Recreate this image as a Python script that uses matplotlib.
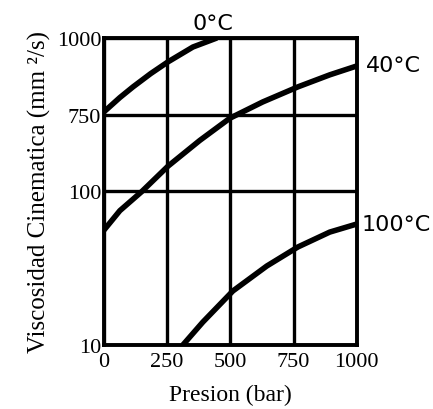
import numpy as np
import matplotlib
matplotlib.use('Agg')
from matplotlib import pyplot as plt

# Pressure (bar) and kinematic viscosity (mm2/s)
p_0C = [0, 63, 115, 185, 253, 352, 447]
v_0C = [330, 409, 480, 586, 698, 873, 1000]

p_40C = [0, 63, 150, 253, 379, 498, 628, 767, 893, 1000]
v_40C = [56, 75, 100, 146, 215, 300, 383, 480, 575, 657]

p_100C = [312, 391, 510, 644, 767, 893, 1000]
v_100C = [10, 14.1, 22.5, 32.7, 43.5, 54.4, 61.4]

x_ticks = [0, 250, 500, 750, 1000]
y_ticks = [10, 100, 316, 1000]
y_ticklabels = ['10', '100', '750', '1000']

plt.rcParams['font.family'] = 'Liberation Serif'

fig = plt.figure(figsize=(4.33, 4.10), dpi=100)
ax = fig.add_axes([0.240, 0.156, 0.584, 0.749])

for p, v in [(p_0C, v_0C), (p_40C, v_40C), (p_100C, v_100C)]:
    ax.plot(p, v, 'k-', lw=4, solid_joinstyle='round', solid_capstyle='butt')

ax.set_yscale('log')
ax.set_xlim(0, 1000)
ax.set_ylim(10, 1000)
ax.set_xticks(x_ticks)
ax.set_xticklabels([str(t) for t in x_ticks], fontsize=16)
ax.set_yticks(y_ticks)
ax.set_yticklabels(y_ticklabels, fontsize=16)
ax.minorticks_off()
ax.tick_params(axis='x', length=0, pad=5)
ax.tick_params(axis='y', length=0, pad=2)
ax.grid(True, color='k', lw=2.4)
for s in ax.spines.values():
    s.set_linewidth(2.8)

# temperature labels
ax.text(430, 1150, '0°C', ha='center', va='baseline', fontsize=16,
        family='DejaVu Sans', clip_on=False)
ax.text(1035, 665, '40°C', ha='left', va='center', fontsize=16,
        family='DejaVu Sans', clip_on=False)
ax.text(1020, 61, '100°C', ha='left', va='center', fontsize=16,
        family='DejaVu Sans', clip_on=False)

ax.set_xlabel('Presion (bar)', fontsize=17, labelpad=9)
ax.set_ylabel('Viscosidad Cinematica (mm ²/s)', fontsize=18, labelpad=4)

plt.savefig('out.png', dpi=100)
